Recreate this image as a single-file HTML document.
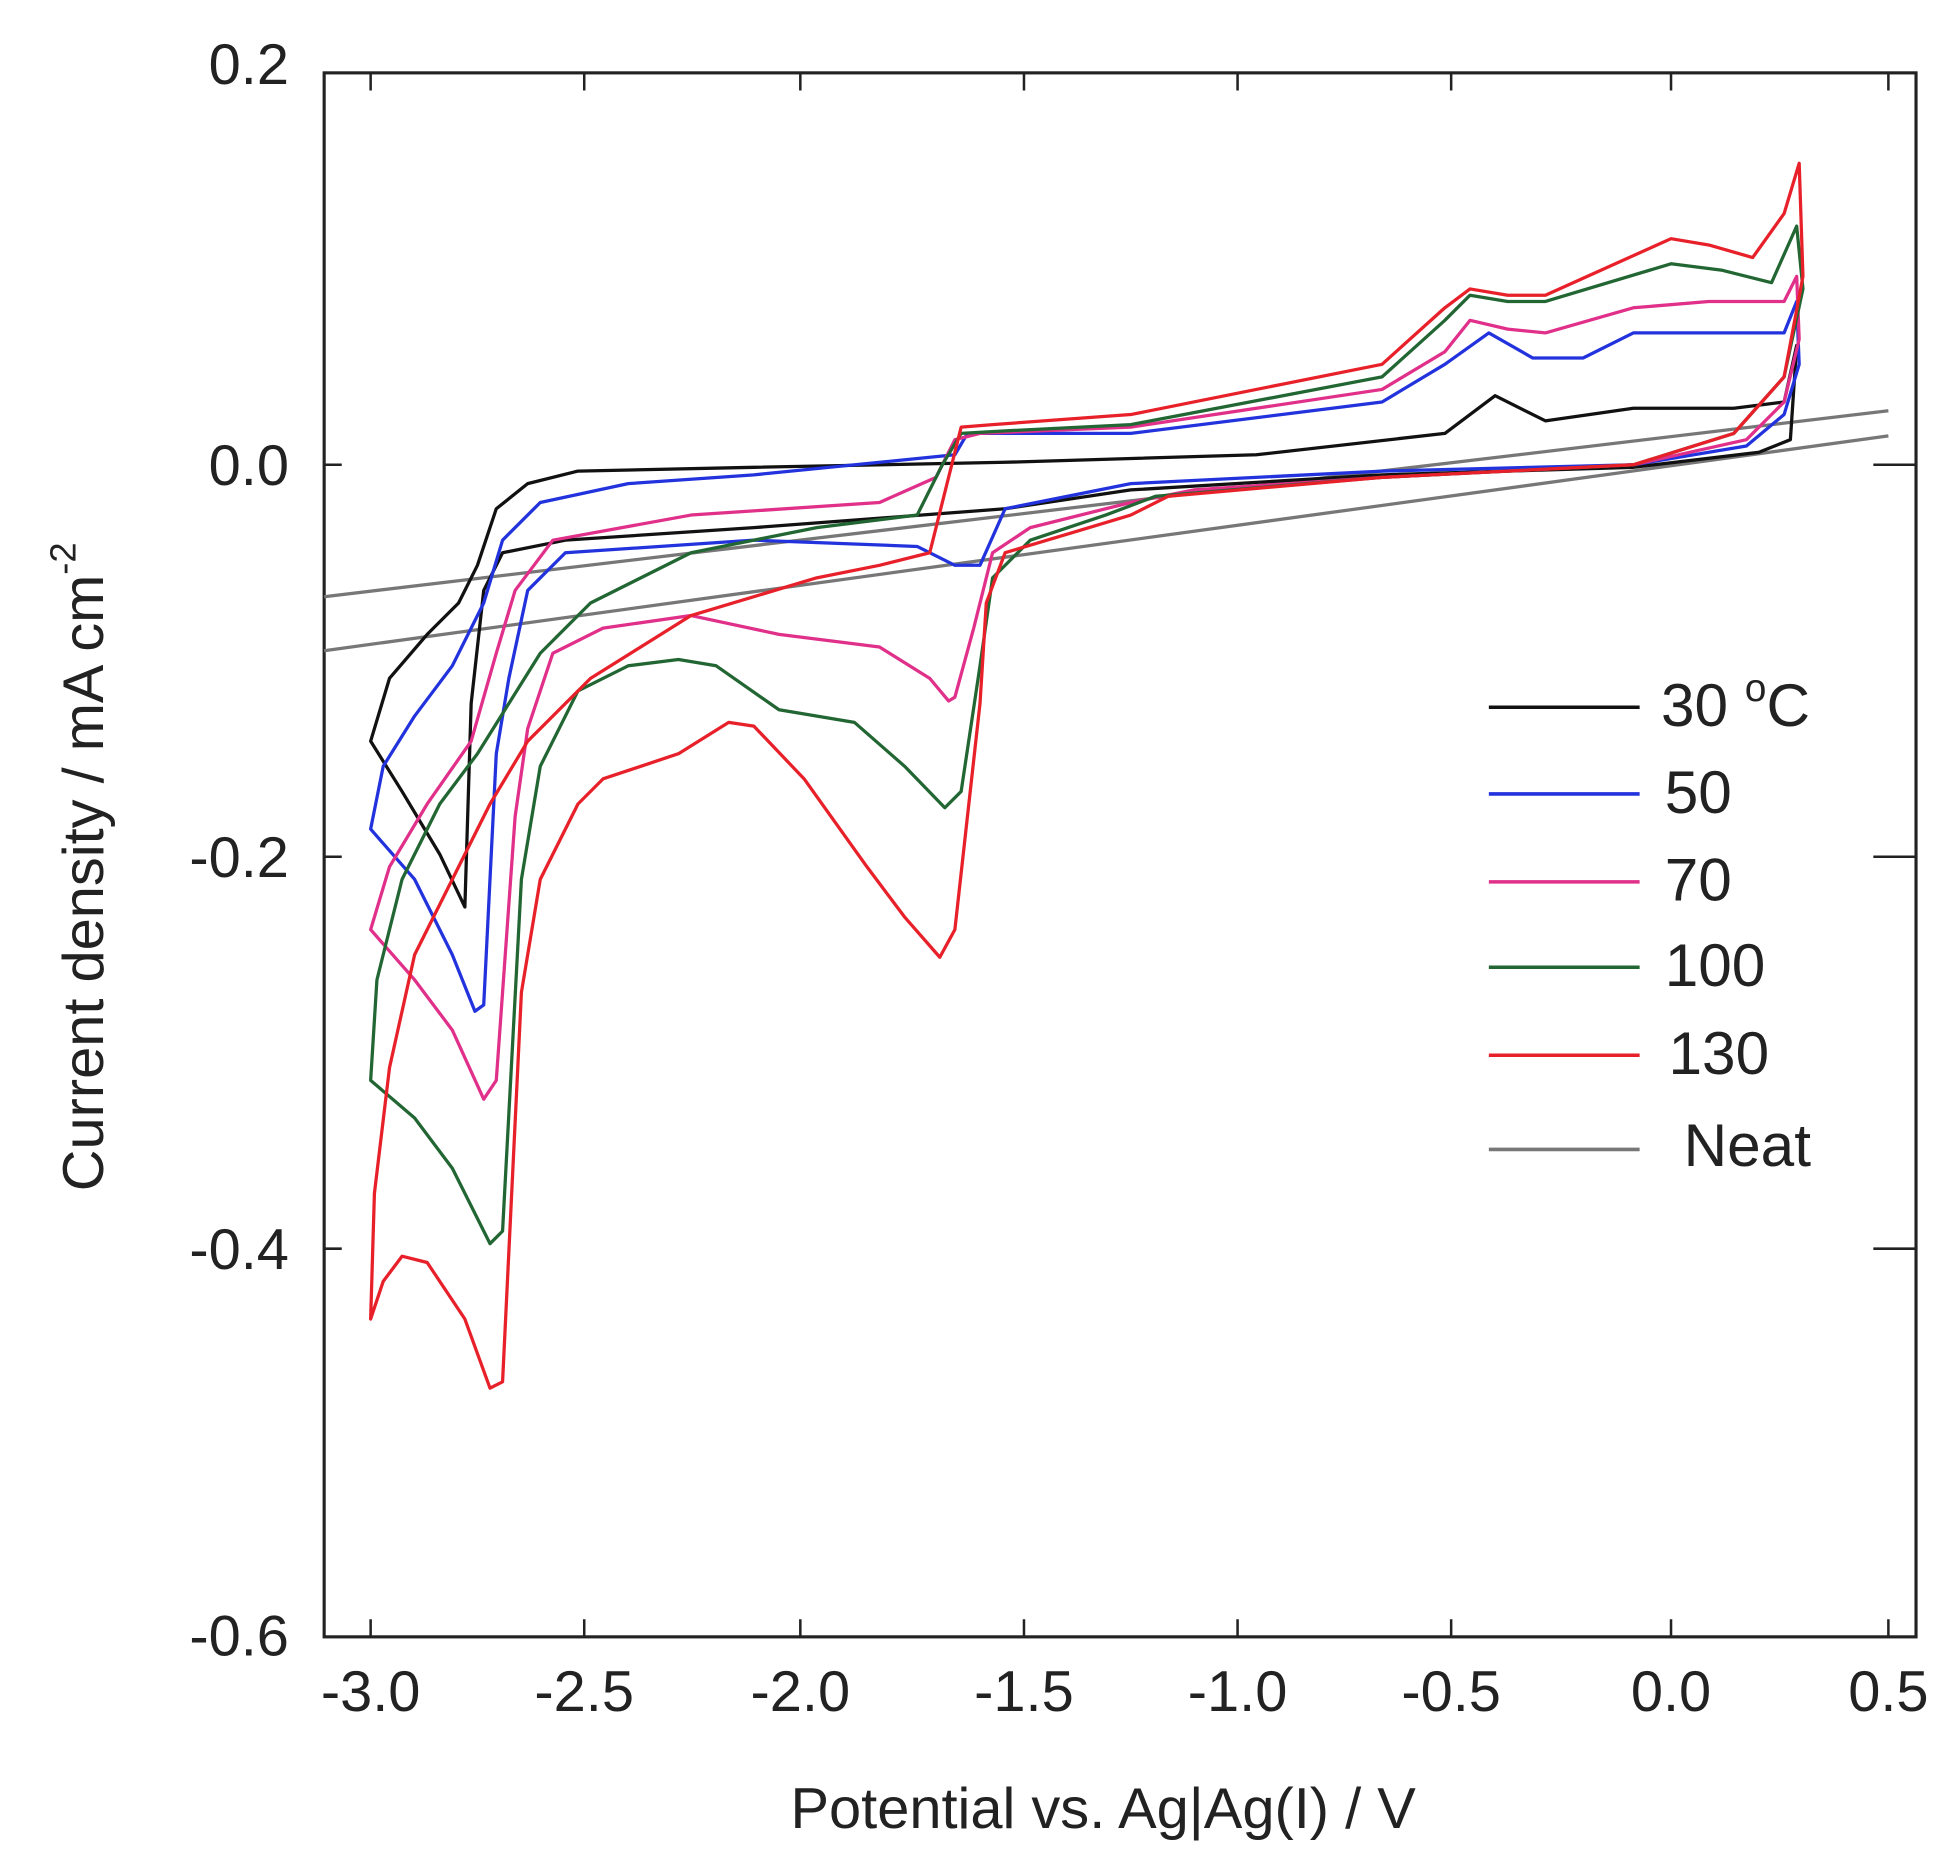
<!DOCTYPE html>
<html><head><style>html,body{margin:0;padding:0;background:#fff}svg{display:block}</style></head>
<body>
<svg width="1960" height="1868" viewBox="0 0 1560 1487" preserveAspectRatio="none" xmlns="http://www.w3.org/2000/svg" font-family="Liberation Sans, sans-serif">
<rect x="258" y="58" width="1267" height="1245" fill="none" stroke="#222" stroke-width="2.5"/>
<g stroke="#222" stroke-width="2">
<path d="M295 1303v-14M465 1303v-14M637 1303v-14M815 1303v-14M985 1303v-14M1155 1303v-14M1330 1303v-14M1503 1303v-14"/>
<path d="M295 58v14M465 58v14M637 58v14M815 58v14M985 58v14M1155 58v14M1330 58v14M1503 58v14"/>
<path d="M258 370h14M258 682h14M258 994h14M1525 370h-34M1525 682h-34M1525 994h-34"/>
</g>
<g font-size="46" fill="#222" text-anchor="end">
<text x="230" y="67">0.2</text><text x="230" y="386">0.0</text><text x="230" y="698">-0.2</text><text x="230" y="1010">-0.4</text><text x="230" y="1318">-0.6</text>
</g>
<g font-size="46" fill="#222" text-anchor="middle">
<text x="295" y="1362">-3.0</text><text x="465" y="1362">-2.5</text><text x="637" y="1362">-2.0</text><text x="815" y="1362">-1.5</text><text x="985" y="1362">-1.0</text><text x="1155" y="1362">-0.5</text><text x="1330" y="1362">0.0</text><text x="1503" y="1362">0.5</text>
</g>
<text x="878" y="1455" font-size="46" text-anchor="middle" fill="#222">Potential vs. Ag|Ag(I) / V</text>
<text transform="translate(82,690) rotate(-90)" font-size="46" text-anchor="middle" fill="#222">Current density / mA cm<tspan dy="-22" font-size="29">-2</tspan></text>
<g fill="none" stroke-width="2.6" stroke-linejoin="round">
<path stroke="#777" d="M258 475L1503 327M258 518L1503 347"/>
<path stroke="#111" d="M295 590L310 540L340 505L365 480L380 450L395 405L420 385L460 375L600 372L800 368L1000 362L1150 345L1190 315L1230 335L1300 325L1380 325L1420 320L1430 275L1425 350L1400 360L1300 372L1100 378L900 390L800 405L600 420L450 430L400 440L385 470L375 560L370 722L350 680L320 630Z"/>
<path stroke="#2233dd" d="M295 660L305 610L330 570L360 530L385 480L400 430L430 400L500 385L600 378L760 362L770 345L900 345L1100 320L1150 290L1185 265L1220 285L1260 285L1300 265L1420 265L1430 240L1432 290L1420 330L1390 355L1300 370L1100 375L900 385L800 405L780 450L760 450L730 435L600 430L450 440L420 470L405 540L395 600L385 800L378 805L360 760L330 700Z"/>
<path stroke="#e0308a" d="M295 740L310 690L340 640L375 590L395 520L410 470L440 430L550 410L700 400L745 380L760 350L780 345L900 340L1100 310L1150 280L1170 255L1200 262L1230 265L1300 245L1360 240L1420 240L1430 220L1432 270L1420 320L1390 350L1300 370L1100 380L950 390L900 400L820 420L790 440L775 500L760 555L755 558L740 540L700 515L620 505L550 490L480 500L440 520L420 580L410 650L395 860L385 875L360 820L330 780Z"/>
<path stroke="#226633" d="M295 860L300 780L320 700L350 640L380 600L405 560L430 520L470 480L550 440L650 420L730 410L750 370L765 345L800 343L900 338L1100 300L1150 255L1170 235L1200 240L1230 240L1330 210L1370 215L1410 225L1430 180L1435 230L1420 300L1380 345L1300 370L1100 380L920 395L880 410L820 430L790 460L780 530L765 630L752 643L720 610L680 575L620 565L570 530L540 525L500 530L460 550L430 610L415 700L400 980L390 990L360 930L330 890Z"/>
<path stroke="#e8202a" d="M295 1050L298 950L310 850L330 760L360 700L390 640L420 590L470 540L550 490L650 460L700 450L740 440L750 400L765 340L790 338L900 330L1100 290L1150 245L1170 230L1200 235L1230 235L1330 190L1360 195L1395 205L1420 170L1432 130L1435 220L1420 300L1380 345L1300 370L1100 380L930 395L900 410L850 425L800 440L785 480L780 560L760 740L748 762L720 730L690 690L640 620L600 578L580 575L540 600L480 620L460 640L430 700L415 790L400 1100L390 1105L370 1050L340 1005L320 1000L305 1020Z"/>
</g>
<g stroke-width="2.8">
<path stroke="#111" d="M1185 563h120"/><path stroke="#2233dd" d="M1185 632h120"/><path stroke="#e0308a" d="M1185 702h120"/><path stroke="#226633" d="M1185 770h120"/><path stroke="#e8202a" d="M1185 840h120"/><path stroke="#777" d="M1185 915h120"/>
</g>
<g font-size="48" fill="#222">
<text x="1322" y="578">30 <tspan dy="-20" font-size="31">o</tspan><tspan dy="20">C</tspan></text>
<text x="1325" y="647">50</text><text x="1325" y="717">70</text><text x="1325" y="785">100</text><text x="1328" y="855">130</text><text x="1340" y="928">Neat</text>
</g>
</svg>
</body></html>
